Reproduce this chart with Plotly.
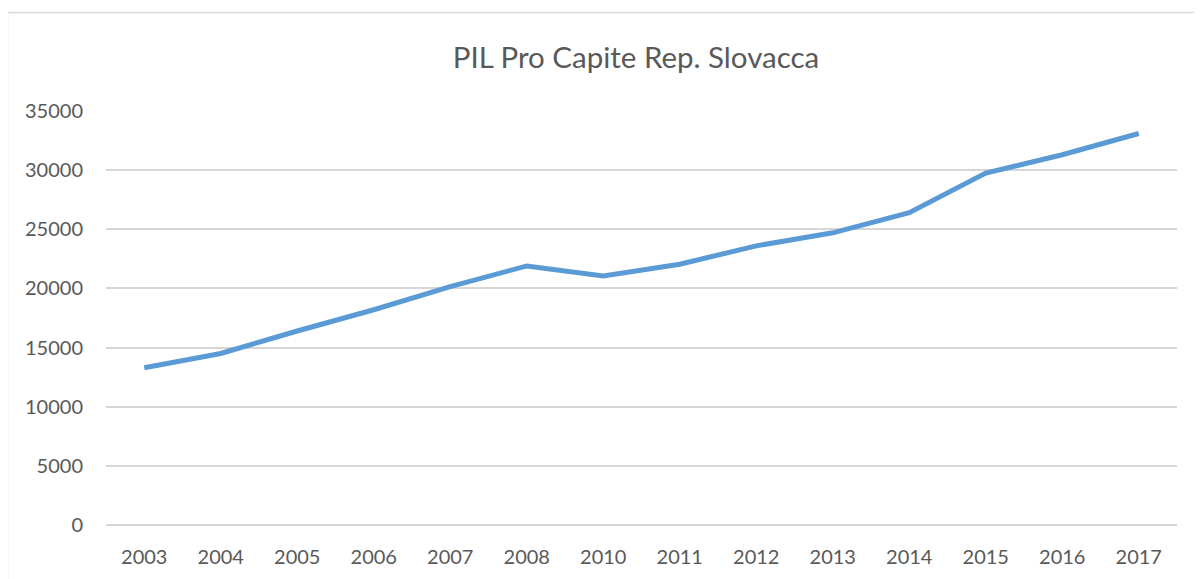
import plotly.graph_objects as go

years = ["2003", "2004", "2005", "2006", "2007", "2008", "2010", "2011",
         "2012", "2013", "2014", "2015", "2016", "2017"]
pil = [13300, 14500, 16400, 18200, 20150, 21900, 21050, 22050,
       23600, 24700, 26400, 29750, 31300, 33100]
y_ticks = [0, 5000, 10000, 15000, 20000, 25000, 30000, 35000]

W, H = 1202, 579
OFF = 8  # page body margin offset compensation
L, R, T, B = 106 - OFF, 25 + OFF, 111 - OFF, 53.5 + OFF
ph = H - T - B
pw = W - L - R

fig = go.Figure()
fig.add_trace(go.Scatter(
    x=years, y=pil, mode="lines",
    line=dict(color="#5b9bd5", width=5, shape="linear"),
    hoverinfo="x+y", showlegend=False,
))

# outer chart frame (light grey border)
fx0 = (7.5 - OFF - L) / pw
fy_top = (H - B - (12.5 - OFF)) / ph
fig.add_shape(type="line", xref="paper", yref="paper",
              x0=fx0, x1=fx0, y0=-0.3, y1=fy_top,
              line=dict(color="#d9d9d9", width=1.5))
fig.add_shape(type="line", xref="paper", yref="paper",
              x0=fx0, x1=1.2, y0=fy_top, y1=fy_top,
              line=dict(color="#d9d9d9", width=1.5))

fig.update_layout(
    width=W, height=H,
    margin=dict(l=L, r=R, t=T, b=B),
    paper_bgcolor="white", plot_bgcolor="white",
    font=dict(family="Lato", color="#595959", size=20),
    title=dict(text="PIL Pro Capite Rep. Slovacca",
               x=(636 - OFF) / W, xanchor="center", xref="container",
               y=1 - (58 - OFF) / H, yanchor="middle", yref="container",
               font=dict(family="Lato", size=29.5, color="#595959")),
    xaxis=dict(type="category", range=[-0.5, len(years) - 0.5],
               showgrid=False, zeroline=False, showline=False,
               ticks="", ticklabelstandoff=18,
               tickfont=dict(size=20, color="#595959")),
    yaxis=dict(range=[0, 35000], tickvals=y_ticks,
               ticktext=[str(v) for v in y_ticks],
               showgrid=True, gridcolor="#d6d6d6", gridwidth=1.5,
               zeroline=True, zerolinecolor="#d6d6d6", zerolinewidth=1.5,
               showline=False, ticks="",
               ticklabelstandoff=22,
               tickfont=dict(size=20, color="#595959")),
)

fig.write_html("out.html")
